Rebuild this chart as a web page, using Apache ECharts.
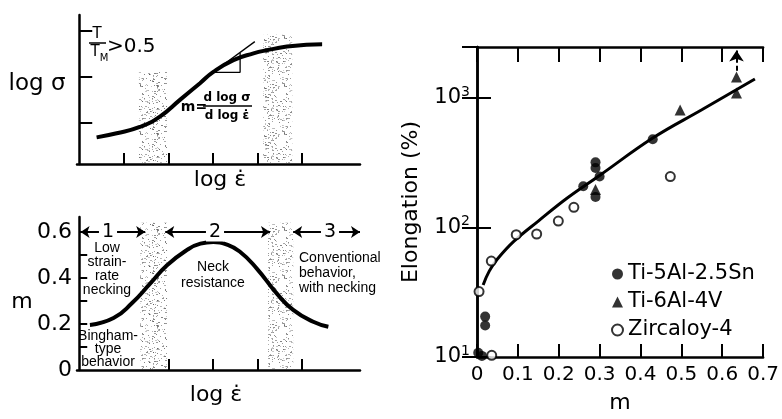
<!DOCTYPE html>
<html><head><meta charset="utf-8">
<script src="https://cdn.jsdelivr.net/npm/echarts@6/dist/echarts.min.js"></script>
<style>html,body{margin:0;padding:0;background:#fff}#c{width:782px;height:419px}</style>
</head><body><div id="c"></div>
<script>
// ---------- data ----------
// top-left: log sigma vs log strain rate (arbitrary units)
const stressCurve = [[0.39,0.59],[0.84,0.68],[1.36,0.82],[1.81,1.05],[2.26,1.42],[2.71,1.79],[3.01,2.04],[3.46,2.30],[3.91,2.45],[4.21,2.52],[4.66,2.60],[5.10,2.64],[5.45,2.65]];
const tangentLine = [[2.75,1.85],[3.94,2.71]];
const slopeTriangle = [[3.03,2.03],[3.61,2.03],[3.61,2.46]];
const stressBands = [[1.34,1.97,2.04],[4.13,4.78,2.86]];      // from, to, top
const stressTicksX = [1,2,3,4,5];
const stressTicksY = [0.92,1.94,2.96];
// bottom-left: m vs log strain rate
const mCurve = [[0.24,0.196],[0.77,0.226],[1.18,0.29],[1.59,0.375],[1.97,0.455],[2.42,0.522],[2.72,0.549],[3.01,0.556],[3.30,0.546],[3.60,0.515],[3.98,0.442],[4.43,0.333],[4.80,0.261],[5.25,0.210],[5.59,0.188]];
const mBands = [[1.37,1.97,0.64],[4.24,4.80,0.64]];
const regionArrows = [[0.03,1.48],[1.93,4.28],[4.80,6.3]];
const regionY = 0.60;
const mTicksX = [2,3,4,5];
const mTicksY = [0.1,0.2,0.3,0.4,0.5,0.6];
const mLabelsY = [0,0.2,0.4,0.6];
// right: elongation (%) vs m
const ti5Al = [[0.003,10.8],[0.012,10.2],[0.02,17.5],[0.02,20.5],[0.26,208],[0.29,318],[0.29,288],[0.30,247],[0.29,172],[0.43,480]];
const ti6Al = [[0.29,196],[0.497,805],[0.635,1090],[0.635,1450]];
const zircaloy = [[0.005,32],[0.036,10.3],[0.035,55],[0.096,88],[0.146,89],[0.199,112],[0.237,143],[0.473,247]];
const fitLine = [[0.015,36],[0.03,46],[0.05,57],[0.09,78],[0.15,112],[0.22,168],[0.30,252],[0.43,490],[0.55,810],[0.68,1400]];
const upArrow = [[0.635,1620],[0.635,2320]];
const seriesNames = ['Ti-5Al-2.5Sn','Ti-6Al-4V','Zircaloy-4'];

// ---------- stipple texture ----------
function stipple(){
  const c = document.createElement('canvas'); c.width = 48; c.height = 48;
  const g = c.getContext('2d');
  let s = 12345;
  const nx = () => { s = (s * 1103515245 + 12345) % 2147483648; return s / 2147483648; };
  for (let i = 0; i < 300; i++) {
    const x = Math.floor(nx()*48), y = Math.floor(nx()*48);
    g.fillStyle = 'rgba(70,70,70,' + (0.25 + 0.45*nx()).toFixed(2) + ')';
    g.fillRect(x, y, nx() < 0.3 ? 2 : 1, 1);
  }
  return c;
}
const tex = {image: stipple(), repeat: 'repeat'};

const DJ = "'DejaVu Sans', sans-serif";
const LB = "'Liberation Sans', Arial, sans-serif";
const BLK = '#000';

function bandAreas(b){ return b.map(r => [{coord:[r[0],0]},{coord:[r[1],r[2]]}]); }

const axisLine = {show:true, lineStyle:{color:BLK, width:2.5}};

const chart = echarts.init(document.getElementById('c'), null, {renderer:'canvas'});
const option = {
  animation:false,
  backgroundColor:'#fff',
  grid:[
    {left:77, top:15, width:283, height:149},
    {left:77, top:217, width:283, height:153},
    {left:477, top:47, width:290, height:323}
  ],
  xAxis:[
    {gridIndex:0, type:'value', min:-0.05, max:6.3, axisLine,
     axisTick:{show:true, inside:true, length:11, customValues:stressTicksX, lineStyle:{color:BLK,width:2}},
     axisLabel:{show:false}, splitLine:{show:false}},
    {gridIndex:1, type:'value', min:-0.05, max:6.3, axisLine,
     axisTick:{show:true, inside:true, length:11, customValues:mTicksX, lineStyle:{color:BLK,width:2}},
     axisLabel:{show:false}, splitLine:{show:false}},
    {gridIndex:2, type:'value', min:0, max:0.7, interval:0.1, position:'bottom', axisLine,
     axisTick:{show:true, inside:true, length:13, lineStyle:{color:BLK,width:2}},
     axisLabel:{show:true, color:BLK, fontFamily:DJ, fontSize:20, margin:8},
     splitLine:{show:false},
     name:'m', nameLocation:'middle', nameGap:35, nameTextStyle:{color:BLK, fontFamily:DJ, fontSize:22}},
    {gridIndex:2, type:'value', min:0, max:0.7, interval:0.1, position:'top', axisLine,
     axisTick:{show:true, inside:true, length:15, lineStyle:{color:BLK,width:2}},
     axisLabel:{show:false}, splitLine:{show:false}}
  ],
  yAxis:[
    {gridIndex:0, type:'value', min:0, max:3.3, axisLine,
     axisTick:{show:true, inside:true, length:13, customValues:stressTicksY, lineStyle:{color:BLK,width:2}},
     axisLabel:{show:false}, splitLine:{show:false}},
    {gridIndex:1, type:'value', min:0, max:0.665, axisLine,
     axisTick:{show:true, inside:true, length:8, customValues:mTicksY, lineStyle:{color:BLK,width:2}},
     axisLabel:{show:true, customValues:mLabelsY, color:BLK, fontFamily:DJ, fontSize:22, margin:5,
       formatter:v => v===0 ? '0' : v.toFixed(1)},
     splitLine:{show:false}},
    {gridIndex:2, type:'log', logBase:10, min:10, max:2470, position:'left', axisLine,
     axisTick:{show:true, inside:true, length:14, lineStyle:{color:BLK,width:2}},
     axisLabel:{show:true, showMaxLabel:false, color:BLK, fontFamily:DJ, fontSize:21, margin:7,
       formatter:function(v){ const e = Math.round(Math.log10(v)); if (Math.abs(Math.pow(10,e)-v) > 1e-6*v) return ''; return '10{s|'+e+'}'; },
       rich:{s:{fontSize:14, fontFamily:DJ, color:BLK, verticalAlign:'top', padding:[0,0,12,0]}}},
     minorTick:{show:false}, splitLine:{show:false},
     name:'Elongation (%)', nameLocation:'middle', nameGap:55, nameRotate:90,
     nameTextStyle:{color:BLK, fontFamily:DJ, fontSize:22}},
    {gridIndex:2, type:'log', logBase:10, min:10, max:2470, position:'right', axisLine,
     axisTick:{show:true, inside:true, length:15, lineStyle:{color:BLK,width:2}},
     axisLabel:{show:false}, splitLine:{show:false}}
  ],
  legend:{
    data:seriesNames, orient:'vertical', left:606, top:258, itemWidth:11, itemHeight:11, itemGap:6,
    textStyle:{color:BLK, fontFamily:DJ, fontSize:21, lineHeight:22}, selectedMode:false
  },
  series:[
    {type:'line', xAxisIndex:0, yAxisIndex:0, data:stressCurve, smooth:0.5, showSymbol:false, symbol:'none',
     lineStyle:{color:BLK, width:4}, z:3,
     markArea:{silent:true, itemStyle:{color:tex}, data:bandAreas(stressBands)}},
    {type:'line', xAxisIndex:0, yAxisIndex:0, data:tangentLine, symbol:'none', lineStyle:{color:BLK, width:1.3}, z:4},
    {type:'line', xAxisIndex:0, yAxisIndex:0, data:slopeTriangle, symbol:'none', lineStyle:{color:BLK, width:1.3}, z:4},
    {type:'line', xAxisIndex:1, yAxisIndex:1, data:mCurve, smooth:0.5, symbol:'none',
     lineStyle:{color:BLK, width:4}, z:3,
     markArea:{silent:true, itemStyle:{color:tex}, data:bandAreas(mBands)},
     markLine:{silent:true, symbol:['arrow','arrow'], symbolSize:9, label:{show:false},
       lineStyle:{color:BLK, width:1.8, type:'solid'},
       data:regionArrows.map(a => [{coord:[a[0],regionY]},{coord:[a[1],regionY]}])}},
    {type:'line', xAxisIndex:2, yAxisIndex:2, data:fitLine, smooth:0.4, symbol:'none',
     lineStyle:{color:BLK, width:3}, z:2, legendHoverLink:false,
     markLine:{silent:true, symbol:['none','arrow'], symbolSize:11, label:{show:false},
       lineStyle:{color:BLK, width:2, type:[5,3]},
       data:[[{coord:upArrow[0]},{coord:upArrow[1]}]]}},
    {name:seriesNames[0], type:'scatter', xAxisIndex:2, yAxisIndex:2, data:ti5Al, symbol:'circle', symbolSize:10,
     itemStyle:{color:BLK}, z:5},
    {name:seriesNames[1], type:'scatter', xAxisIndex:2, yAxisIndex:2, data:ti6Al, symbol:'triangle', symbolSize:11,
     itemStyle:{color:BLK}, z:5},
    {name:seriesNames[2], type:'scatter', xAxisIndex:2, yAxisIndex:2, data:zircaloy, symbol:'circle', symbolSize:9,
     itemStyle:{color:'#fff', borderColor:BLK, borderWidth:2}, z:6}
  ],
  graphic:[
    // top-left annotations
    {type:'text', x:37, y:84, style:{text:'log σ', font:'23px '+DJ, fill:BLK, align:'center', verticalAlign:'middle'}},
    {type:'text', x:97, y:34, style:{text:'T', font:'15px '+DJ, fill:BLK, align:'center', verticalAlign:'middle'}},
    {type:'line', shape:{x1:89, y1:43, x2:106, y2:43}, style:{stroke:BLK, lineWidth:1.5}},
    {type:'text', x:95, y:52, style:{text:'T', font:'15px '+DJ, fill:BLK, align:'center', verticalAlign:'middle'}},
    {type:'text', x:104, y:58, style:{text:'M', font:'10px '+DJ, fill:BLK, align:'center', verticalAlign:'middle'}},
    {type:'text', x:107, y:47, style:{text:'>0.5', font:'20px '+DJ, fill:BLK, align:'left', verticalAlign:'middle'}},
    {type:'text', x:194, y:107, style:{text:'m=', font:'bold 14px '+DJ, fill:BLK, align:'center', verticalAlign:'middle'}},
    {type:'text', x:227, y:98, style:{text:'d log σ', font:'bold 12px '+DJ, fill:BLK, align:'center', verticalAlign:'middle'}},
    {type:'line', shape:{x1:203, y1:106, x2:252, y2:106}, style:{stroke:BLK, lineWidth:1.3}},
    {type:'text', x:227, y:116, style:{text:'d log ε̇', font:'bold 12px '+DJ, fill:BLK, align:'center', verticalAlign:'middle'}},
    {type:'text', x:220, y:180, style:{text:'log ε̇', font:'22px '+DJ, fill:BLK, align:'center', verticalAlign:'middle'}},
    // bottom-left annotations
    {type:'text', x:22, y:302, style:{text:'m', font:'22px '+DJ, fill:BLK, align:'center', verticalAlign:'middle'}},
    {type:'text', x:216, y:395, style:{text:'log ε̇', font:'22px '+DJ, fill:BLK, align:'center', verticalAlign:'middle'}},
    {type:'text', x:108, y:232, z:100, style:{text:'1', font:'19px '+DJ, fill:BLK, align:'center', verticalAlign:'middle', backgroundColor:'#fff', padding:[0,3]}},
    {type:'text', x:215, y:232, z:100, style:{text:'2', font:'19px '+DJ, fill:BLK, align:'center', verticalAlign:'middle', backgroundColor:'#fff', padding:[0,3]}},
    {type:'text', x:330, y:232, z:100, style:{text:'3', font:'19px '+DJ, fill:BLK, align:'center', verticalAlign:'middle', backgroundColor:'#fff', padding:[0,3]}},
    {type:'text', x:107, y:269, style:{text:'Low\nstrain-\nrate\nnecking', font:'14px '+LB, lineHeight:14, fill:BLK, align:'center', verticalAlign:'middle'}},
    {type:'text', x:108, y:349, style:{text:'Bingham-\ntype\nbehavior', font:'14px '+LB, lineHeight:13, fill:BLK, align:'center', verticalAlign:'middle'}},
    {type:'text', x:213, y:275, style:{text:'Neck\nresistance', font:'14px '+LB, lineHeight:16, fill:BLK, align:'center', verticalAlign:'middle'}},
    {type:'text', x:299, y:273, style:{text:'Conventional\nbehavior,\nwith necking', font:'14px '+LB, lineHeight:15, fill:BLK, align:'left', verticalAlign:'middle'}}
  ]
};
chart.setOption(option);
</script>
</body></html>
